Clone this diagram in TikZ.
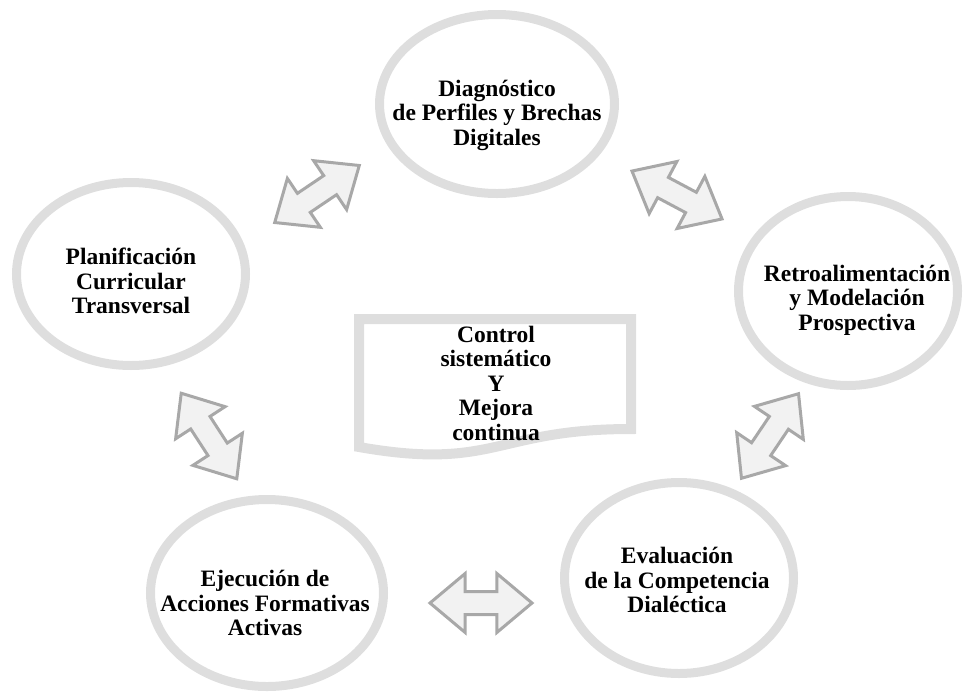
\documentclass[tikz,border=0pt]{standalone}
\usepackage{fontspec}
\setmainfont{Liberation Serif}
\usepackage{tikz}
\usetikzlibrary{shapes.geometric,shapes.arrows}

\definecolor{ringgray}{RGB}{222,222,222}
\definecolor{arrowline}{RGB}{168,168,168}
\definecolor{arrowfill}{RGB}{242,242,242}

\begin{document}
\begin{tikzpicture}[x=1pt,y=-1pt,
    ring/.style={ellipse,draw=ringgray,line width=9pt,inner sep=0pt},
    lbl/.style={align=center,font=\fontsize{23.5}{24.5}\selectfont\bfseries,inner sep=0pt},
    dbl/.style={double arrow,draw=arrowline,fill=arrowfill,line width=3pt,
      double arrow head extend=18pt,double arrow tip angle=80,
      minimum height=102pt,inner xsep=0pt,inner ysep=10pt}]
    \useasboundingbox (0,0) rectangle (963,694);

    % Stages
    \node[ring,minimum width=235pt,minimum height=179pt] (diag) at (497,104) {};
    \node[ring,minimum width=229pt,minimum height=183pt] (plan) at (131,274) {};
    \node[ring,minimum width=219pt,minimum height=189pt] (retro) at (848,291) {};
    \node[ring,minimum width=233pt,minimum height=187pt] (ejec) at (267,593) {};
    \node[ring,minimum width=229pt,minimum height=191pt] (eval) at (679,578) {};

    % Stage texts
    \node[lbl] (diagtxt) at (497,115) {Diagnóstico\\de Perfiles y Brechas\\Digitales};
    \node[lbl] (plantxt) at (131,281) {Planificación\\Curricular\\Transversal};
    \node[lbl] (retrotxt) at (857,300) {Retroalimentación\\y Modelación\\Prospectiva};
    \node[lbl] (ejectxt) at (265,603) {Ejecución de\\Acciones Formativas\\Activas};
    \node[lbl] (evaltxt) at (677,580) {Evaluación\\de la Competencia\\Dialéctica};

    % Central document
    \draw[ringgray,line width=10pt] (359,319) -- (631,319) -- (631,429)
      .. controls (495,429) and (495,471) .. (359,447) -- cycle;
    \node[lbl] (ctrl) at (496,383) {Control\\sistemático\\Y\\Mejora\\continua};

    % Double arrows between stages
    \node[dbl,rotate=34] (plandiag) at (317,194) {};
    \node[dbl,rotate=-28] (diagretro) at (677,195) {};
    \node[dbl,rotate=56] (retroeval) at (770,436) {};
    \node[dbl] (evalejec) at (481,603) {};
    \node[dbl,rotate=-57] (ejecplan) at (209,436) {};
\end{tikzpicture}
\end{document}
